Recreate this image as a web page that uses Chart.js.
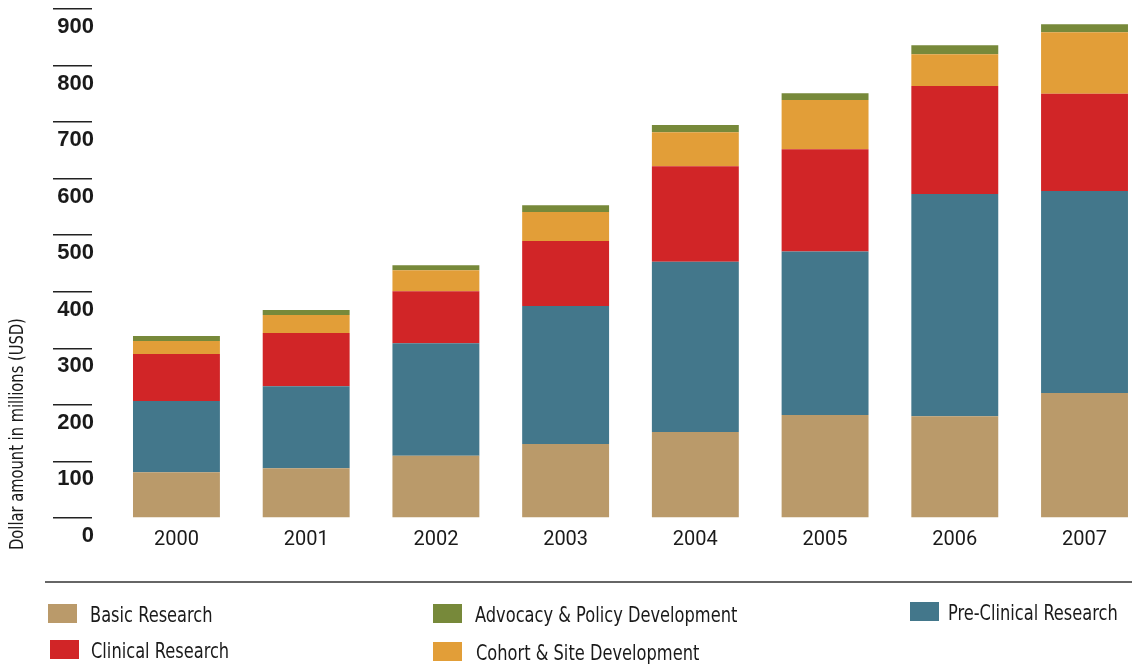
<!DOCTYPE html>
<html>
<head>
<meta charset="utf-8">
<title>Research funding by year</title>
<script src="https://cdn.jsdelivr.net/npm/chart.js@4.4.1/dist/chart.umd.min.js"></script>
<style>
  html, body { margin: 0; padding: 0; background: #fff; }
  #wrap { width: 1132px; height: 664px; }
</style>
</head>
<body>
<div id="wrap"><canvas id="fundingChart" width="1132" height="664"></canvas></div>
<script>
// values in millions of USD
const years = [2000, 2001, 2002, 2003, 2004, 2005, 2006, 2007];
const basicResearch    = [81, 88, 110, 131, 152, 182, 180, 221];
const preClinical      = [126, 145, 199, 244, 301, 289, 393, 357];
const clinicalResearch = [83, 94, 92, 115, 169, 181, 191, 172];
const cohortSite       = [23, 32, 37, 51, 60, 87, 56, 109];
const advocacyPolicy   = [9, 9, 9, 12, 13, 12, 16, 14];
const yTickValues = [0, 100, 200, 300, 400, 500, 600, 700, 800, 900];

// no narrow font installed, so the condensed face is squeezed a little more
const NARROW = "'Liberation Sans Narrow', 'DejaVu Sans Condensed', sans-serif";
const SQUEEZE = 0.86;
const TEXT = '#1a1a1a';

// legend slots (column by column, like the original)
const legendSlots = {
    'Basic Research':                { x: 48,  y: 604, tx: 90 },
    'Clinical Research':             { x: 50,  y: 640, tx: 91 },
    'Advocacy & Policy Development': { x: 433, y: 604, tx: 475 },
    'Cohort & Site Development':     { x: 433, y: 642, tx: 476 },
    'Pre-Clinical Research':         { x: 910, y: 602, tx: 948 }
};

function squeezedText(ctx, text, x, y) {
    ctx.save();
    ctx.translate(x, y);
    ctx.scale(SQUEEZE, 1);
    ctx.fillText(text, 0, 0);
    ctx.restore();
}

// draws the y labels under their tick lines, the axis title, the rule and the legend
const decorPlugin = {
    id: 'decor',
    afterDraw(chart) {
        const ctx = chart.ctx;
        const yScale = chart.scales.y;
        ctx.save();

        // y tick labels sit just below each tick line
        ctx.fillStyle = TEXT;
        ctx.font = "bold 22px 'Liberation Sans', Arial, sans-serif";
        ctx.textAlign = 'right';
        ctx.textBaseline = 'alphabetic';
        yScale.ticks.forEach(t => {
            const py = yScale.getPixelForValue(t.value);
            ctx.fillText(String(t.value), 94, py + 24);
        });

        // axis title
        ctx.save();
        ctx.translate(23, 550);
        ctx.rotate(-Math.PI / 2);
        ctx.font = '19px ' + NARROW;
        ctx.textAlign = 'left';
        squeezedText(ctx, 'Dollar amount in millions (USD)', 0, 0);
        ctx.restore();

        // rule above the legend
        ctx.strokeStyle = '#666';
        ctx.lineWidth = 2;
        ctx.beginPath();
        ctx.moveTo(45, 582);
        ctx.lineTo(1132, 582);
        ctx.stroke();

        // legend
        ctx.font = '21px ' + NARROW;
        ctx.textAlign = 'left';
        chart.data.datasets.forEach(ds => {
            const s = legendSlots[ds.label];
            if (!s) return;
            ctx.fillStyle = ds.backgroundColor;
            ctx.fillRect(s.x, s.y, 29, 19);
            ctx.fillStyle = TEXT;
            squeezedText(ctx, ds.label, s.tx, s.y + 18);
        });

        ctx.restore();
    }
};

const ctx = document.getElementById('fundingChart').getContext('2d');

new Chart(ctx, {
    type: 'bar',
    data: {
        labels: years,
        datasets: [
            { label: 'Basic Research', data: basicResearch, backgroundColor: '#BA9A6A' },
            { label: 'Pre-Clinical Research', data: preClinical, backgroundColor: '#43778B' },
            { label: 'Clinical Research', data: clinicalResearch, backgroundColor: '#D12527' },
            { label: 'Cohort & Site Development', data: cohortSite, backgroundColor: '#E29E38' },
            { label: 'Advocacy & Policy Development', data: advocacyPolicy, backgroundColor: '#77893A' }
        ]
    },
    options: {
        responsive: false,
        animation: false,
        devicePixelRatio: 1,
        layout: { padding: { top: 9, left: 0, right: 0, bottom: 0 } },
        datasets: {
            bar: { categoryPercentage: 1, barPercentage: 0.67, borderWidth: 0 }
        },
        plugins: {
            legend: { display: false },
            title: { display: false },
            tooltip: { enabled: false }
        },
        scales: {
            x: {
                type: 'linear',
                stacked: true,
                offset: false,
                min: 1999.349,
                max: 2007.366,
                grid: { display: false, drawTicks: false, offset: false },
                border: { display: false },
                ticks: {
                    stepSize: 1,
                    includeBounds: false,
                    autoSkip: false,
                    maxRotation: 0,
                    padding: 10,
                    color: TEXT,
                    font: { family: 'Roboto', size: 20 },
                    callback: v => Number.isInteger(v) ? String(v) : ''
                },
                afterFit: s => { s.height = 146; }
            },
            y: {
                stacked: true,
                min: 0,
                max: 900,
                grid: {
                    drawOnChartArea: false,
                    drawTicks: true,
                    tickLength: 39,
                    color: '#222',
                    lineWidth: 1.5
                },
                border: { display: false },
                ticks: { display: false },
                afterBuildTicks: s => { s.ticks = yTickValues.map(v => ({ value: v })); },
                afterFit: s => { s.width = 92; }
            }
        }
    },
    plugins: [decorPlugin]
});
</script>
</body>
</html>
